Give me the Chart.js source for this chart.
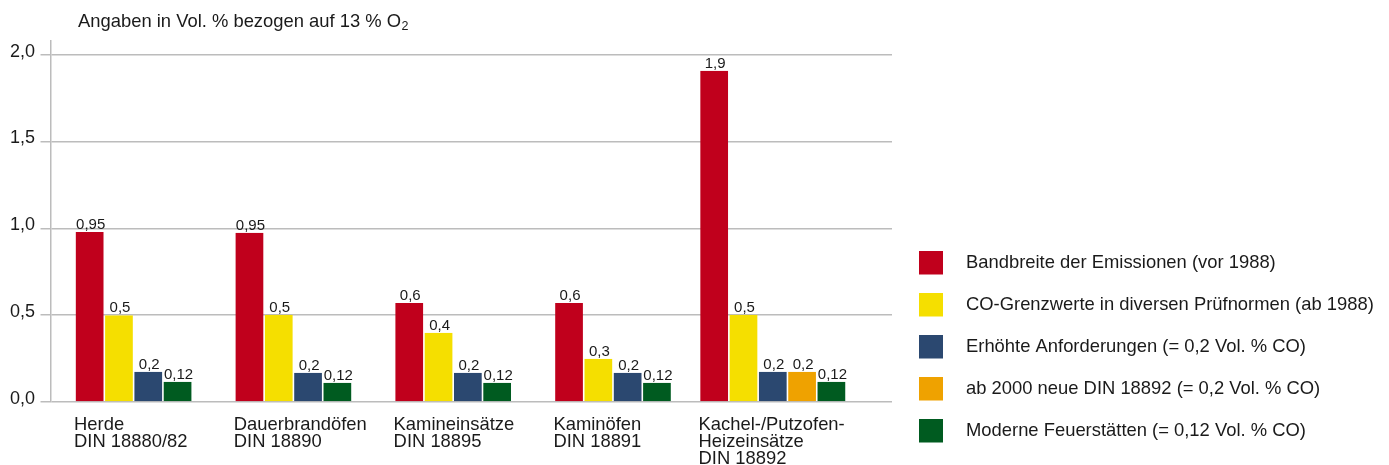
<!DOCTYPE html>
<html>
<head>
<meta charset="utf-8">
<script src="https://cdn.jsdelivr.net/npm/chart.js@4"></script>
<style>
  html, body { margin: 0; padding: 0; background: #fff; }
  #wrap { width: 1389px; height: 465px; }
</style>
</head>
<body>
<div id="wrap"><canvas id="grafik"></canvas></div>
<script>
(() => {
  'use strict'

  // Kategorien (mehrzeilige Beschriftung)
  const kategorien = [
    ['Herde', 'DIN 18880/82'],
    ['Dauerbrandöfen', 'DIN 18890'],
    ['Kamineinsätze', 'DIN 18895'],
    ['Kaminöfen', 'DIN 18891'],
    ['Kachel-/Putzofen-', 'Heizeinsätze', 'DIN 18892']
  ];

  const serienNamen = [
    'Bandbreite der Emissionen (vor 1988)',
    'CO-Grenzwerte in diversen Prüfnormen (ab 1988)',
    'Erhöhte Anforderungen (= 0,2 Vol. % CO)',
    'ab 2000 neue DIN 18892 (= 0,2 Vol. % CO)',
    'Moderne Feuerstätten (= 0,12 Vol. % CO)'
  ];

  // Balkenhöhen
  const bandbreite = [0.978, 0.975, 0.57, 0.57, 1.907];
  const grenzwerte = [0.50, 0.503, 0.399, 0.249, 0.503];
  const erhoeht    = [0.174, 0.169, 0.169, 0.169, 0.174];
  const din2000    = [null, null, null, null, 0.174];
  const modern     = [0.117, 0.111, 0.111, 0.111, 0.117];

  // beschriftete Werte über den Balken
  const bandbreiteText = [0.95, 0.95, 0.6, 0.6, 1.9];
  const grenzwerteText = [0.5, 0.5, 0.4, 0.3, 0.5];
  const erhoehtText    = [0.2, 0.2, 0.2, 0.2, 0.2];
  const din2000Text    = [null, null, null, null, 0.2];
  const modernText     = [0.12, 0.12, 0.12, 0.12, 0.12];

  const yTicks = [0, 0.5, 1.0, 1.5, 2.0];

  const farben = ['#c0001c', '#f5df00', '#2b4870', '#efa200', '#005b20'];
  const textFarbe = '#1a1a1a';
  const fontName = '"Liberation Sans", Arial, sans-serif';

  const werte = [bandbreite, grenzwerte, erhoeht, din2000, modern];
  const texte = [bandbreiteText, grenzwerteText, erhoehtText, din2000Text, modernText];

  const deutsch = (v) => v.toLocaleString('de-DE');

  // Werte über den Balken, Kategorien, Titel und Legende
  const beschriftung = {
    id: 'beschriftung',
    afterDatasetsDraw(chart) {
      const ctx = chart.ctx;
      const area = chart.chartArea;
      ctx.save();
      ctx.fillStyle = textFarbe;

      // Wertebeschriftung
      ctx.font = '15px ' + fontName;
      ctx.textAlign = 'center';
      ctx.textBaseline = 'alphabetic';
      chart.data.datasets.forEach((ds, di) => {
        const meta = chart.getDatasetMeta(di);
        meta.data.forEach((el, i) => {
          const t = texte[di][i];
          if (t === null || ds.data[i].y === null) return;
          ctx.fillText(deutsch(t), el.x + 1, el.y - 3);
        });
      });

      // Kategorien, linksbündig unter der Gruppe
      ctx.font = '18.4px ' + fontName;
      ctx.textAlign = 'left';
      const erste = chart.getDatasetMeta(0);
      kategorien.forEach((zeilen, i) => {
        const el = erste.data[i];
        const x = el.x - el.width / 2 - 1;
        zeilen.forEach((z, k) => {
          ctx.fillText(z, x, area.bottom + 27.5 + k * 17);
        });
      });

      // Titel
      ctx.font = '18.4px ' + fontName;
      const titel = 'Angaben in Vol. % bezogen auf 13 % O';
      ctx.fillText(titel, 78, 26.5);
      const w = ctx.measureText(titel).width;
      ctx.font = '12.5px ' + fontName;
      ctx.fillText('2', 78 + w + 0.5, 30);

      // Legende
      ctx.font = '18.4px ' + fontName;
      serienNamen.forEach((name, i) => {
        const top = 251 + i * 42;
        const lx = area.right + 27;
        ctx.fillStyle = farben[i];
        ctx.fillRect(lx, top, 24, 23.5);
        ctx.fillStyle = textFarbe;
        ctx.fillText(name, lx + 47, top + 16.8);
      });
      ctx.restore();
    }
  };

  const ctx = document.getElementById('grafik');
  // eslint-disable-next-line no-unused-vars
  const myChart = new Chart(ctx, {
    type: 'bar',
    data: {
      datasets: werte.map((reihe, di) => ({
        label: serienNamen[di],
        data: reihe.map((v, i) => ({ x: i, y: v })),
        backgroundColor: farben[di],
        borderColor: 'rgba(0,0,0,0)',
        borderWidth: { left: 0.8, right: 0.8, top: 0, bottom: 0 },
        borderSkipped: false,
        inflateAmount: 0,
        barThickness: 29.3,
        skipNull: true
      }))
    },
    plugins: [beschriftung],
    options: {
      responsive: true,
      maintainAspectRatio: false,
      animation: false,
      layout: {
        padding: { left: 4.5, right: 497, top: 40.7, bottom: 63 }
      },
      scales: {
        x: {
          type: 'linear',
          display: false,
          offset: false,
          min: -0.52,
          max: 4.746
        },
        y: {
          min: 0,
          max: 2.08,
          afterBuildTicks: (scale) => { scale.ticks = yTicks.map(v => ({ value: v })) },
          grid: {
            color: '#bcbcbc',
            lineWidth: 1.5,
            drawTicks: true,
            tickLength: 10,
            tickColor: '#bcbcbc'
          },
          border: { display: true, color: '#bcbcbc', width: 1.5 },
          ticks: {
            padding: 5.5,
            labelOffset: -3,
            color: textFarbe,
            font: { family: fontName, size: 18 },
            callback: (v) => v.toFixed(1).replace('.', ',')
          }
        }
      },
      plugins: {
        legend: { display: false },
        tooltip: { enabled: false }
      }
    }
  })
})()
</script>
</body>
</html>
